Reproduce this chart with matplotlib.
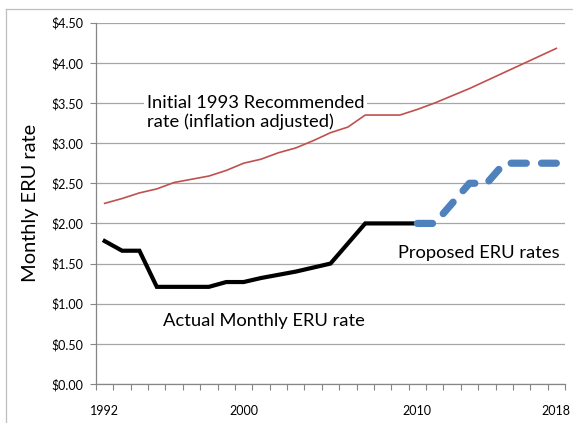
import matplotlib
matplotlib.use("Agg")
import matplotlib.pyplot as plt
from matplotlib.lines import Line2D

# ---------------------------------------------------------------- data
years = list(range(1992, 2019))
tick_years = [1992, 2000, 2010, 2018]

recommended = [2.25, 2.31, 2.38, 2.43, 2.51, 2.55, 2.59, 2.66, 2.75,
               2.80, 2.88, 2.94, 3.03, 3.13, 3.20, 3.35, 3.35, 3.35,
               3.42, 3.50, 3.59, 3.68, 3.78, 3.88, 3.98, 4.08, 4.18]

actual_years = list(range(1992, 2011))
actual = [1.78, 1.66, 1.66, 1.21, 1.21, 1.21, 1.21, 1.27, 1.27,
          1.32, 1.36, 1.40, 1.45, 1.50, 1.75, 2.00, 2.00, 2.00, 2.00]

proposed_years = list(range(2010, 2019))
proposed = [2.00, 2.00, 2.25, 2.50, 2.50, 2.75, 2.75, 2.75, 2.75]

yticks = [0.0, 0.5, 1.0, 1.5, 2.0, 2.5, 3.0, 3.5, 4.0, 4.5]

# ---------------------------------------------------------------- figure
plt.rcParams["font.family"] = ["Lato", "DejaVu Sans"]

fig = plt.figure(figsize=(5.73, 4.23), dpi=100)
ax = fig.add_axes([96 / 573, 1 - 384 / 423, (565 - 96) / 573, (384 - 22.7) / 423])

idx = lambda ys: [y - years[0] for y in ys]

ax.plot(idx(years), recommended, color="#C0504D", lw=1.2, zorder=3)
ax.plot(idx(actual_years), actual, color="black", lw=3.0, zorder=3,
        solid_joinstyle="miter")
ax.plot(idx(proposed_years), proposed, color="#4F81BD", lw=5.2, zorder=4,
        linestyle=(0, (2.1, 2.1)), dash_capstyle="round")

ax.set_xlim(-0.5, len(years) - 0.5)
ax.set_ylim(0, 4.5)
ax.set_yticks(yticks)
ax.set_yticklabels([f"${v:.2f}" for v in yticks], fontsize=9)
ax.yaxis.grid(True, color="#A6A6A6", lw=0.9)
ax.set_axisbelow(True)

# category boundaries get tick marks, labels sit at category centres
ax.set_xticks([i - 0.5 for i in range(len(years) + 1)])
ax.set_xticklabels([])
ax.set_xticks(idx(tick_years), minor=True)
ax.set_xticklabels([str(y) for y in tick_years], minor=True, fontsize=9)
ax.tick_params(axis="x", which="minor", length=0, pad=15)
ax.tick_params(axis="x", which="major", length=4, color="#868686", width=0.8)
ax.tick_params(axis="y", length=4, color="#868686", width=0.8, pad=5)

for s in ("top", "right"):
    ax.spines[s].set_visible(False)
for s in ("left", "bottom"):
    ax.spines[s].set_color("#868686")
    ax.spines[s].set_linewidth(0.9)

ax.set_ylabel("Monthly ERU rate", fontsize=14.4, labelpad=9)

ax.text(2.42, 3.385, "Initial 1993 Recommended\nrate (inflation adjusted)",
        fontsize=13.2, ha="left", va="center", linespacing=1.15, zorder=2,
        bbox=dict(facecolor="white", edgecolor="none", pad=2))
ax.text(16.9, 1.63, "Proposed ERU rates", fontsize=13.2, ha="left", va="center")
ax.text(3.34, 0.78, "Actual Monthly ERU rate", fontsize=13.2, ha="left", va="center")

# outer chart border (cropped at right and bottom)
fig.add_artist(Line2D([6 / 573, 1], [1 - 9 / 423] * 2, color="#BFBFBF", lw=0.9))
fig.add_artist(Line2D([6 / 573] * 2, [0, 1 - 9 / 423], color="#BFBFBF", lw=0.9))

fig.savefig("out.png", dpi=100)
